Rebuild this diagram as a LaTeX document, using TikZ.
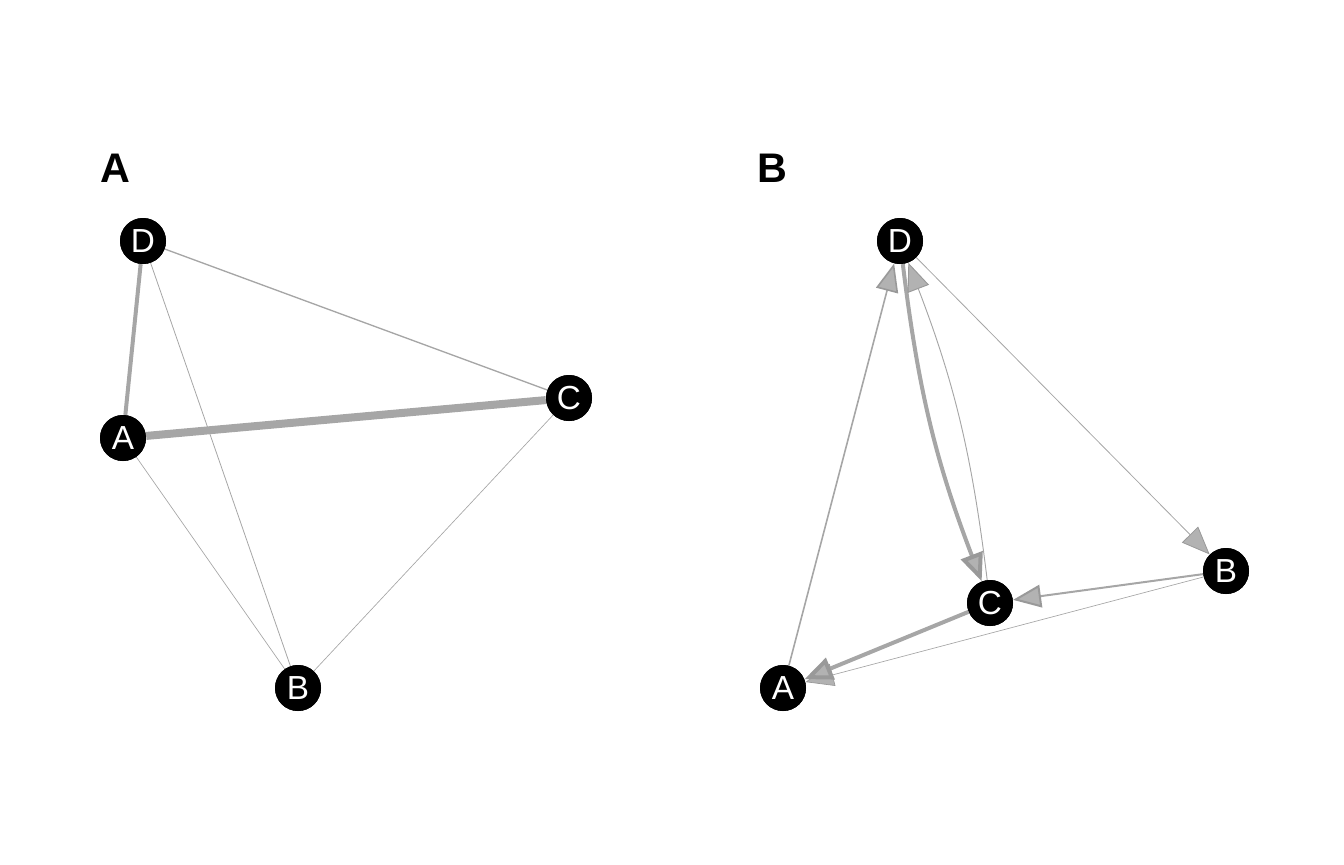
\documentclass[tikz,border=0pt]{standalone}
\usepackage{fontspec}
\setmainfont{Liberation Sans}
\usetikzlibrary{arrows.meta}
\begin{document}
\begin{tikzpicture}[x=0.75pt,y=-0.75pt]
    \tikzstyle{vertex}=[circle,fill=black,inner sep=0pt,minimum size=34.5pt,text=white,font=\fontsize{25}{25}\selectfont]
    \tikzstyle{panel}=[font=\fontsize{31}{31}\selectfont\bfseries]
    \tikzstyle{link}=[draw=black!35]
    \tikzstyle{arc}=[link,-{Triangle[length=21pt,width=17pt,fill=black!30,color=black!40]}]
    \useasboundingbox (0,0) rectangle (1344,864);
    % panel A
    \node[panel] (labA) at (115,168) {A};
    \node[vertex] (aD) at (143,241) {D};
    \node[vertex] (aA) at (123,438) {A};
    \node[vertex] (aC) at (569,398) {C};
    \node[vertex] (aB) at (298,688) {B};
    \draw[link,line width=6pt] (aA) -- (aC);
    \draw[link,line width=3pt] (aD) -- (aA);
    \draw[link,line width=1pt] (aD) -- (aC);
    \draw[link,line width=0.6pt] (aD) -- (aB);
    \draw[link,line width=0.5pt] (aA) -- (aB);
    \draw[link,line width=0.5pt] (aC) -- (aB);
    % panel B
    \node[panel] (labB) at (772,168) {B};
    \node[vertex] (bD) at (900,241) {D};
    \node[vertex] (bA) at (783,688) {A};
    \node[vertex] (bC) at (990,603) {C};
    \node[vertex] (bB) at (1226,571) {B};
    \draw[arc,line width=1.2pt] (bA) -- (bD);
    \draw[arc,line width=3pt] (bD) to[bend right=7] (bC);
    \draw[arc,line width=0.7pt] (bC) to[bend right=7] (bD);
    \draw[arc,line width=0.6pt] (bD) -- (bB);
    \draw[arc,line width=1.5pt] (bB) -- (bC);
    \draw[arc,line width=0.5pt] (bB) -- (bA);
    \draw[arc,line width=3pt] (bC) -- (bA);
    % vertices on top
    \foreach \n/\t in {aD/D,aA/A,aC/C,aB/B,bD/D,bA/A,bC/C,bB/B}
      \node[vertex] at (\n) {\t};
\end{tikzpicture}
\end{document}
